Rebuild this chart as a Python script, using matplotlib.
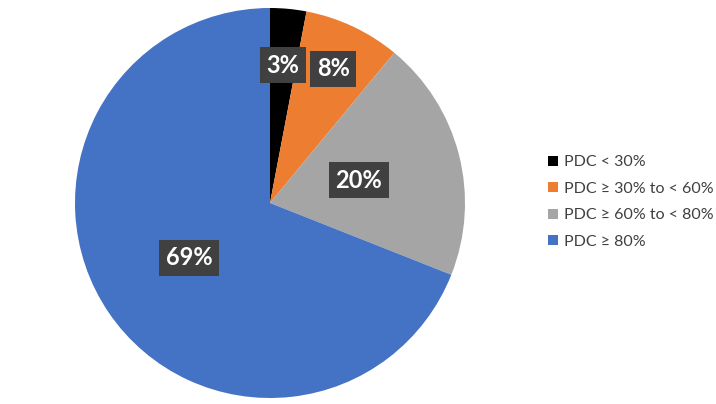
import numpy as np
import matplotlib.pyplot as plt

labels = ['PDC < 30%', 'PDC ≥ 30% to < 60%', 'PDC ≥ 60% to < 80%', 'PDC ≥ 80%']
values = [3, 8, 20, 69]
colors = ['#000000', '#ED7D31', '#A5A5A5', '#4472C4']
label_dist = [0.71, 0.76, 0.47, 0.5]

plt.rcParams['font.family'] = ['Lato', 'DejaVu Sans']

fig = plt.figure(figsize=(7.16, 4.04), dpi=100)
ax = fig.add_axes([75/716, 6/404, 390/716, 390/404])

wedges, _ = ax.pie(values, colors=colors, startangle=90, counterclock=False,
                   radius=1, wedgeprops=dict(linewidth=0))
ax.set_xlim(-1, 1)
ax.set_ylim(-1, 1)
ax.set_aspect('equal')

for w, v, d in zip(wedges, values, label_dist):
    ang = np.deg2rad((w.theta1 + w.theta2) / 2)
    ax.text(d*np.cos(ang), d*np.sin(ang), '%d%%' % v, ha='center', va='center',
            color='white', fontsize=17, fontweight='bold',
            bbox=dict(boxstyle='square,pad=0.28', fc='#404040', ec='none'))

fig.legend(wedges, labels, loc='center left', bbox_to_anchor=(534/716, 0.5),
           frameon=False, fontsize=11.5, handlelength=0.6, handleheight=0.6,
           handletextpad=0.4, labelspacing=0.78, labelcolor='#404040')

fig.savefig('out.png', dpi=100)
